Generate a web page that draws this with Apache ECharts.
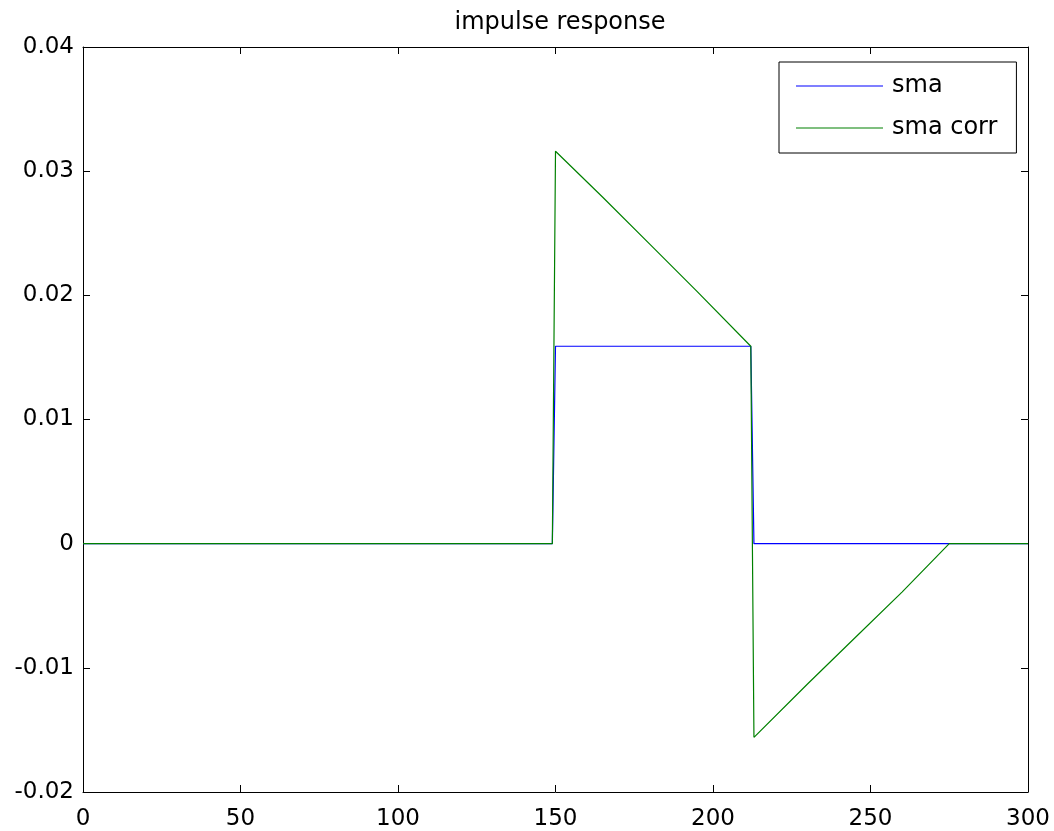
<!DOCTYPE html>
<html>
<head>
<meta charset="utf-8">
<script src="https://cdn.jsdelivr.net/npm/echarts@6/dist/echarts.min.js"></script>
<style>html,body{margin:0;padding:0;background:#fff;}#c{width:1054px;height:831px;}</style>
</head>
<body>
<div id="c"></div>
<script>
// Key vertices (x sample index, y value)
var smaX = [0, 149, 150, 212, 213, 300];
var smaY = [0, 0, 0.0159, 0.0159, 0, 0];
var corrX = [0, 149, 150, 165, 180, 195, 212, 213, 230, 245, 260, 275, 300];
var corrY = [0, 0, 0.0316, 0.0279, 0.0241, 0.0203, 0.0159, -0.0156, -0.0113, -0.0076, -0.0039, 0, 0];
var xTicks = [0, 50, 100, 150, 200, 250, 300];
var yTicks = [-0.02, -0.01, 0, 0.01, 0.02, 0.03, 0.04];

function pairs(xs, ys){ return xs.map(function(x,i){ return [x, ys[i]]; }); }

var FONT = 'DejaVu Sans';
var chart = echarts.init(document.getElementById('c'));
var axisCommon = {
  axisLine: {show: true, onZero: false, lineStyle: {color: '#000', width: 1}},
  axisTick: {show: true, inside: true, length: 7, lineStyle: {color: '#000'}},
  splitLine: {show: false}
};
function yFmt(v){
  if (Math.abs(v) < 1e-9) return '0';
  return v.toFixed(2);
}
chart.setOption({
  animation: false,
  backgroundColor: '#fff',
  title: {
    text: 'impulse response',
    left: 555,
    textAlign: 'center',
    top: 6,
    textStyle: {fontFamily: FONT, fontSize: 24, fontWeight: 'normal', color: '#000'}
  },
  grid: {left: 83, right: 26, top: 47, bottom: 39, containLabel: false},
  legend: {
    orient: 'vertical',
    left: 779,
    top: 62,
    padding: [12, 19, 13, 17],
    itemGap: 18,
    itemWidth: 87,
    itemHeight: 1,
    icon: 'rect',
    borderColor: '#000',
    borderWidth: 1,
    backgroundColor: '#fff',
    textStyle: {fontFamily: FONT, fontSize: 24, color: '#000', padding: [0,0,0,4]},
    data: [{name: 'sma', icon: 'rect'}, {name: 'sma corr', icon: 'rect'}]
  },
  xAxis: [
    Object.assign({type: 'value', min: 0, max: 300, interval: 50, position: 'bottom',
      axisLabel: {color: '#000', fontSize: 23, fontFamily: FONT, margin: 16}}, axisCommon),
    Object.assign({type: 'value', min: 0, max: 300, interval: 50, position: 'top',
      axisLabel: {show: false}}, axisCommon)
  ],
  yAxis: [
    Object.assign({type: 'value', min: -0.02, max: 0.04, interval: 0.01, position: 'left',
      axisLabel: {color: '#000', fontSize: 23, fontFamily: FONT, margin: 9, formatter: yFmt}}, axisCommon),
    Object.assign({type: 'value', min: -0.02, max: 0.04, interval: 0.01, position: 'right',
      axisLabel: {show: false}}, axisCommon)
  ],
  series: [
    {name: 'sma', type: 'line', data: pairs(smaX, smaY), symbol: 'none', showSymbol: false,
      lineStyle: {color: '#0000ff', width: 1.2}, itemStyle: {color: '#0000ff'}},
    {name: 'sma corr', type: 'line', data: pairs(corrX, corrY), symbol: 'none', showSymbol: false,
      lineStyle: {color: '#008000', width: 1.2}, itemStyle: {color: '#008000'}}
  ]
});
</script>
</body>
</html>
